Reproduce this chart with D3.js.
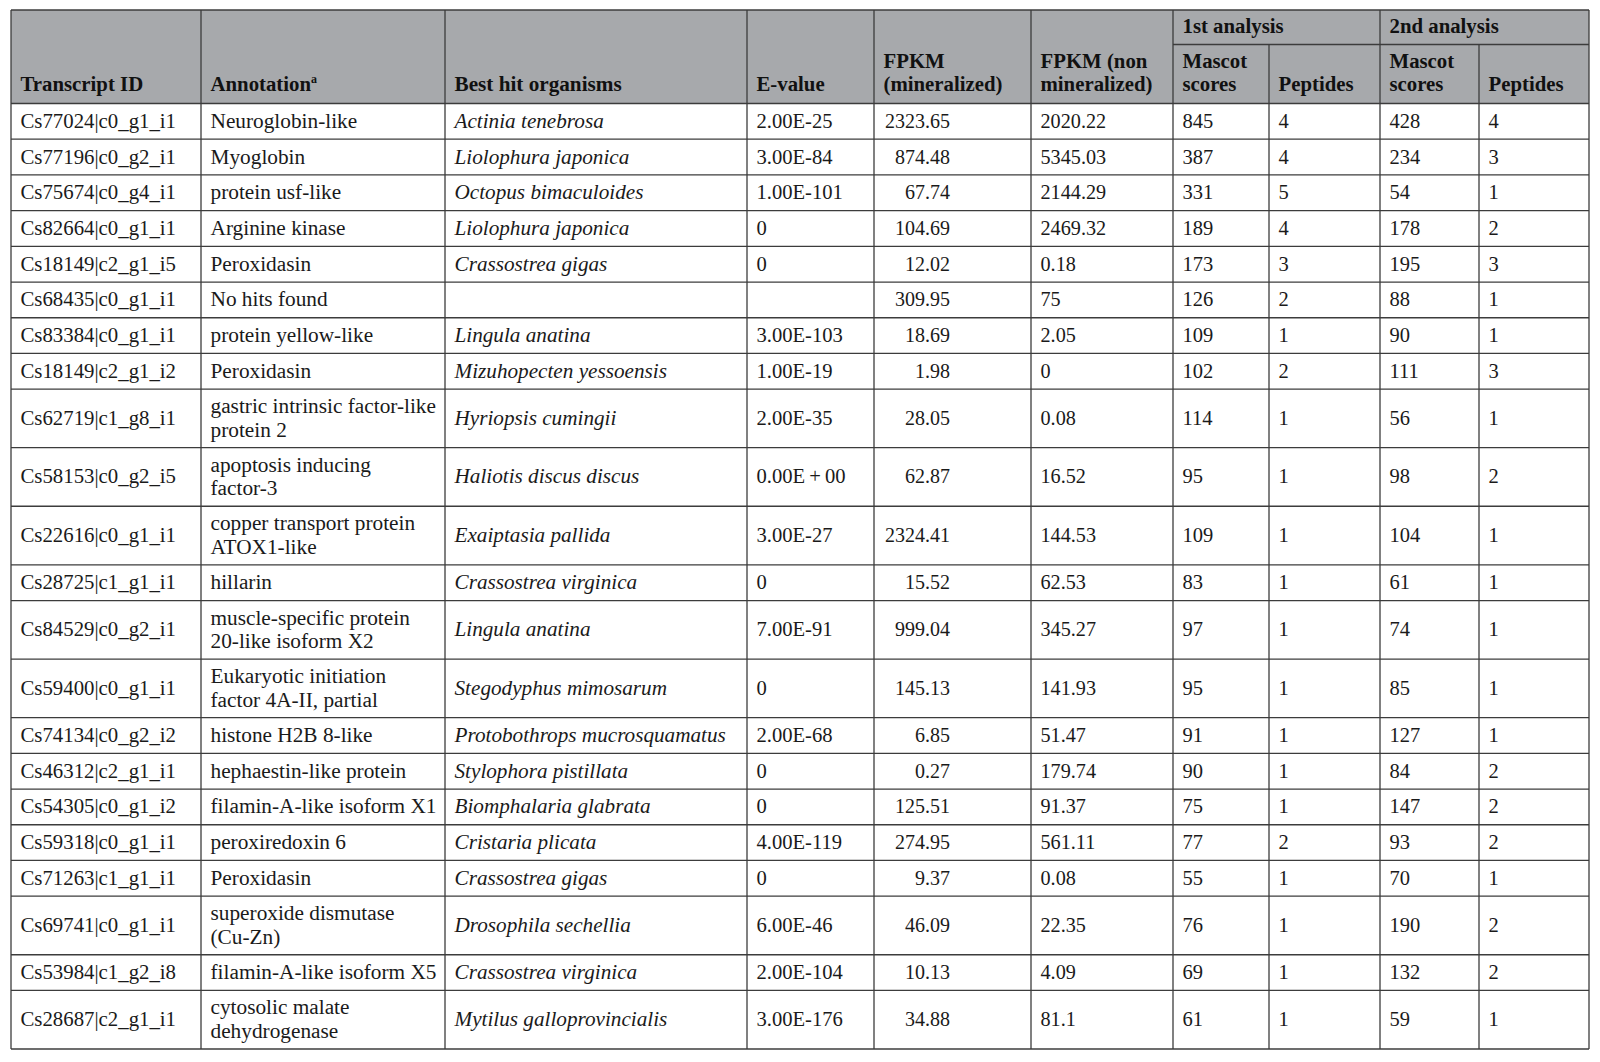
<!DOCTYPE html>
<html>
<head>
<meta charset="utf-8">
<script src="https://cdn.jsdelivr.net/npm/d3@7"></script>
<style>
  html, body { margin: 0; padding: 0; background: #ffffff; }
  svg { display: block; }
</style>
</head>
<body>
<svg id="chart" width="1600" height="1062"></svg>
<script>
// ---------------- DATA ----------------
const transcriptIds = ["Cs77024|c0_g1_i1","Cs77196|c0_g2_i1","Cs75674|c0_g4_i1","Cs82664|c0_g1_i1","Cs18149|c2_g1_i5","Cs68435|c0_g1_i1","Cs83384|c0_g1_i1","Cs18149|c2_g1_i2","Cs62719|c1_g8_i1","Cs58153|c0_g2_i5","Cs22616|c0_g1_i1","Cs28725|c1_g1_i1","Cs84529|c0_g2_i1","Cs59400|c0_g1_i1","Cs74134|c0_g2_i2","Cs46312|c2_g1_i1","Cs54305|c0_g1_i2","Cs59318|c0_g1_i1","Cs71263|c1_g1_i1","Cs69741|c0_g1_i1","Cs53984|c1_g2_i8","Cs28687|c2_g1_i1"];
const annotations = [["Neuroglobin-like"],["Myoglobin"],["protein usf-like"],["Arginine kinase"],["Peroxidasin"],["No hits found"],["protein yellow-like"],["Peroxidasin"],["gastric intrinsic factor-like","protein 2"],["apoptosis inducing","factor-3"],["copper transport protein","ATOX1-like"],["hillarin"],["muscle-specific protein","20-like isoform X2"],["Eukaryotic initiation","factor 4A-II, partial"],["histone H2B 8-like"],["hephaestin-like protein"],["filamin-A-like isoform X1"],["peroxiredoxin 6"],["Peroxidasin"],["superoxide dismutase","(Cu-Zn)"],["filamin-A-like isoform X5"],["cytosolic malate","dehydrogenase"]];
const organisms = ["Actinia tenebrosa","Liolophura japonica","Octopus bimaculoides","Liolophura japonica","Crassostrea gigas","","Lingula anatina","Mizuhopecten yessoensis","Hyriopsis cumingii","Haliotis discus discus","Exaiptasia pallida","Crassostrea virginica","Lingula anatina","Stegodyphus mimosarum","Protobothrops mucrosquamatus","Stylophora pistillata","Biomphalaria glabrata","Cristaria plicata","Crassostrea gigas","Drosophila sechellia","Crassostrea virginica","Mytilus galloprovincialis"];
const eValues = ["2.00E-25","3.00E-84","1.00E-101","0","0","","3.00E-103","1.00E-19","2.00E-35","0.00E\u2009+\u200900","3.00E-27","0","7.00E-91","0","2.00E-68","0","0","4.00E-119","0","6.00E-46","2.00E-104","3.00E-176"];
const fpkmMineralized = ["2323.65","874.48","67.74","104.69","12.02","309.95","18.69","1.98","28.05","62.87","2324.41","15.52","999.04","145.13","6.85","0.27","125.51","274.95","9.37","46.09","10.13","34.88"];
const fpkmNonMineralized = ["2020.22","5345.03","2144.29","2469.32","0.18","75","2.05","0","0.08","16.52","144.53","62.53","345.27","141.93","51.47","179.74","91.37","561.11","0.08","22.35","4.09","81.1"];
const mascot1 = [845,387,331,189,173,126,109,102,114,95,109,83,97,95,91,90,75,77,55,76,69,61];
const peptides1 = [4,4,5,4,3,2,1,2,1,1,1,1,1,1,1,1,1,2,1,1,1,1];
const mascot2 = [428,234,54,178,195,88,90,111,56,98,104,61,74,85,127,84,147,93,70,190,132,59];
const peptides2 = [4,3,1,2,3,1,1,3,1,2,1,1,1,1,1,2,2,2,1,2,2,1];

const columnHeaders = [["Transcript ID"],["Annotation"],["Best hit organisms"],["E-value"],["FPKM","(mineralized)"],["FPKM (non","mineralized)"],["Mascot","scores"],["Peptides"],["Mascot","scores"],["Peptides"]];
const groupHeaders = ["1st analysis","2nd analysis"];

// ---------------- LAYOUT ----------------
const svg = d3.select("#chart");
const FONT = "'Liberation Serif', 'Times New Roman', serif";
const lineColor = "#3c3c3c";
const headerFill = "#a7a9ac";

const colEdges = [11, 201, 445, 747, 874, 1031, 1173, 1269, 1380, 1479, 1589];
const colFontSize = [20.8, 21.3, 21.2, 20.6, 20, 20.2, 20.5, 20.5, 20.5, 20.5];
const tableTop = 10, subTop = 44.5, headerBottom = 103.5, tableBottom = 1049;

// row heights in "line units" through a linear scale
const rowUnits = annotations.map(a => a.length === 1 ? 1 : 1.64);
const cum = [0];
rowUnits.forEach(u => cum.push(cum[cum.length - 1] + u));
const y = d3.scaleLinear().domain([0, cum[cum.length - 1]]).range([headerBottom, tableBottom]);

const g = svg.append("g");

// header background
g.append("rect").attr("x", colEdges[0]).attr("y", tableTop)
  .attr("width", colEdges[10] - colEdges[0]).attr("height", headerBottom - tableTop)
  .attr("fill", headerFill);

// header texts
const headerLine = 23.5;
columnHeaders.forEach((lines, i) => {
  const x = colEdges[i] + 9.5;
  const baseY = headerBottom - 12.5 - (lines.length - 1) * headerLine;
  const t = g.append("text").attr("font-family", FONT).attr("font-weight", "bold")
    .attr("font-size", i === 2 ? 21.2 : 20.8).attr("fill", "#111");
  lines.forEach((ln, k) => {
    t.append("tspan").attr("x", x).attr("y", baseY + k * headerLine).text(ln);
  });
  if (i === 1) {
    t.append("tspan").attr("font-size", 12).attr("dy", -8).text("a");
  }
});
groupHeaders.forEach((h, k) => {
  const x = colEdges[6 + 2 * k] + 9.5;
  g.append("text").attr("font-family", FONT).attr("font-weight", "bold")
    .attr("font-size", 20.8).attr("fill", "#111")
    .attr("x", x).attr("y", 33).text(h);
});

// body
const rows = transcriptIds.map((id, i) => ({
  i, cells: [[id], annotations[i], [organisms[i]], [eValues[i]], [fpkmMineralized[i]], [fpkmNonMineralized[i]],
    [String(mascot1[i])], [String(peptides1[i])], [String(mascot2[i])], [String(peptides2[i])]]
}));

const bodyLine = 23.5;
rows.forEach(r => {
  const y0 = y(cum[r.i]), y1 = y(cum[r.i + 1]);
  const mid = (y0 + y1) / 2;
  r.cells.forEach((lines, c) => {
    const n = lines.length;
    const firstBase = mid + 6.5 - (n - 1) * bodyLine / 2;
    const rightAlign = c === 4;
    const x = rightAlign ? colEdges[c] + 76 : colEdges[c] + 9.5;
    const t = g.append("text").attr("font-family", FONT).attr("font-size", colFontSize[c])
      .attr("fill", "#1a1a1a")
      .attr("font-style", c === 2 ? "italic" : "normal")
      .attr("text-anchor", rightAlign ? "end" : "start");
    lines.forEach((ln, k) => {
      t.append("tspan").attr("x", x).attr("y", firstBase + k * bodyLine).text(ln);
    });
  });
});

// grid lines
const lines = g.append("g").attr("stroke", lineColor).attr("stroke-width", 1.3).attr("fill", "none");
lines.append("line").attr("x1", colEdges[0]).attr("x2", colEdges[10]).attr("y1", tableTop).attr("y2", tableTop);
lines.append("line").attr("x1", colEdges[6]).attr("x2", colEdges[10]).attr("y1", subTop).attr("y2", subTop);
cum.forEach(u => {
  lines.append("line").attr("x1", colEdges[0]).attr("x2", colEdges[10]).attr("y1", y(u)).attr("y2", y(u));
});
colEdges.forEach((x, i) => {
  const top = (i === 7 || i === 9) ? subTop : tableTop;
  lines.append("line").attr("x1", x).attr("x2", x).attr("y1", top).attr("y2", tableBottom);
});
</script>
</body>
</html>
